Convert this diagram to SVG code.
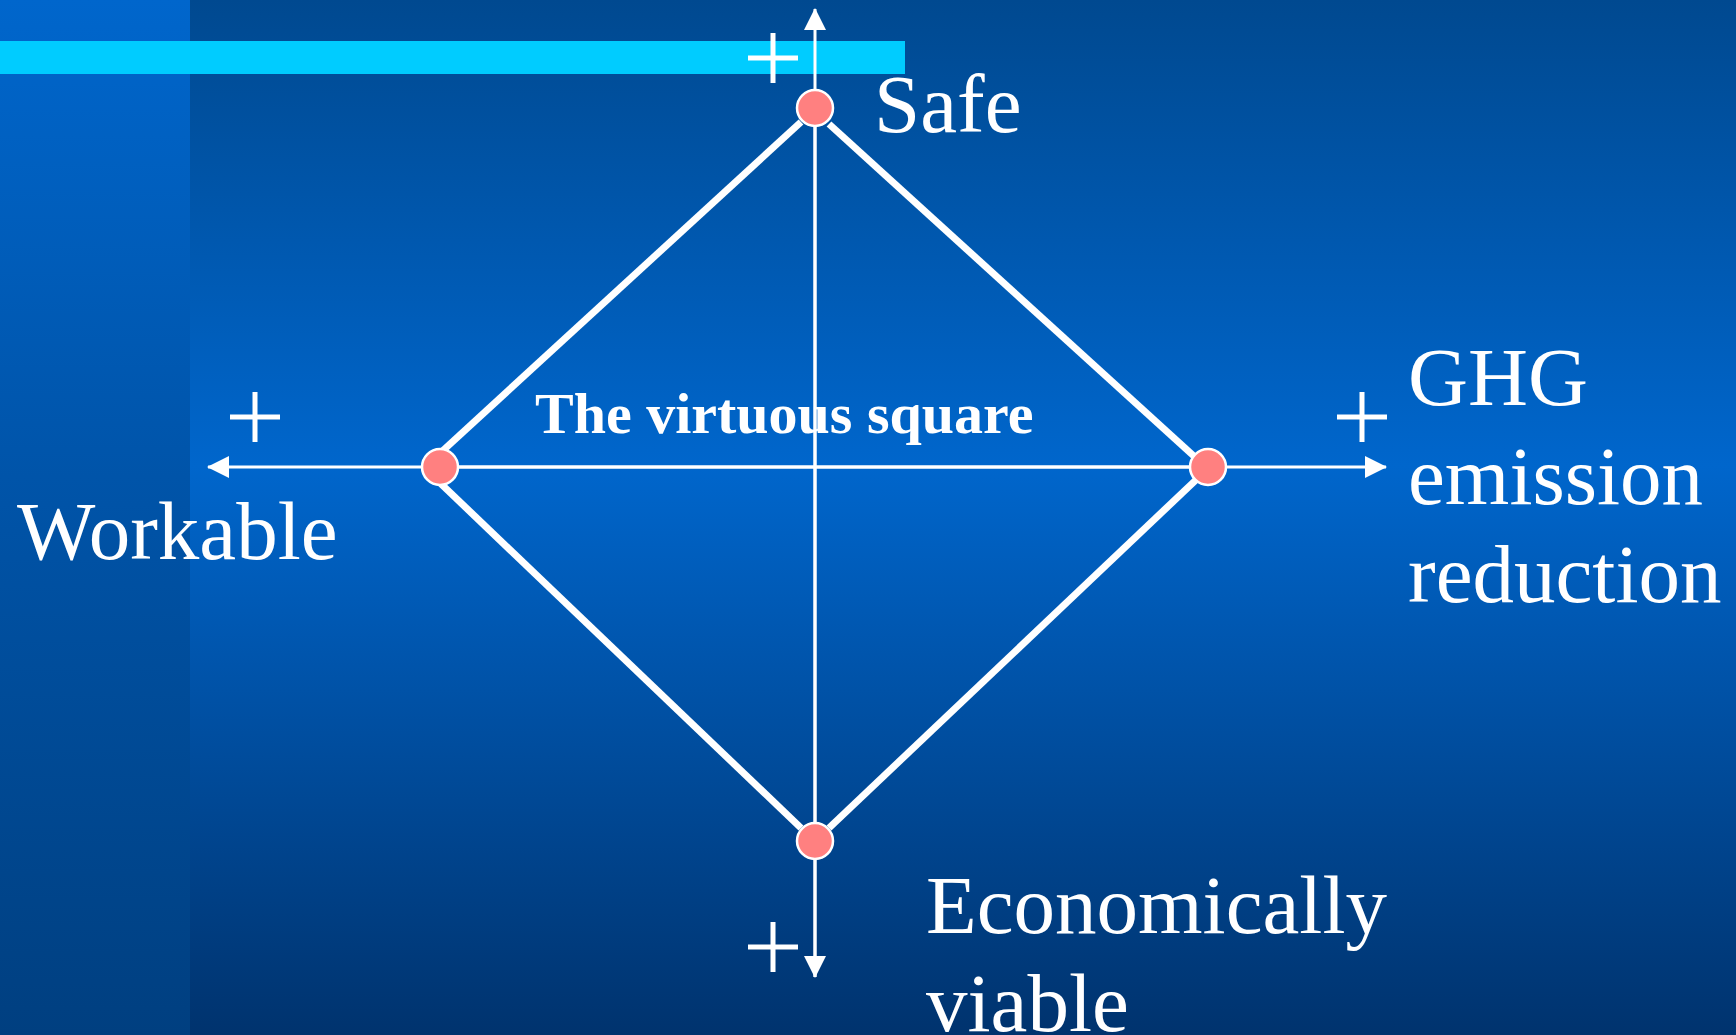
<svg xmlns="http://www.w3.org/2000/svg" width="1736" height="1035" viewBox="0 0 1736 1035">
<defs>
<linearGradient id="bg" x1="0" y1="0" x2="0" y2="1">
<stop offset="0" stop-color="#004990"/>
<stop offset="0.45" stop-color="#0066CC"/>
<stop offset="1" stop-color="#00336E"/>
</linearGradient>
<linearGradient id="strip" x1="0" y1="0" x2="0" y2="1">
<stop offset="0" stop-color="#0066CC"/>
<stop offset="1" stop-color="#003F80"/>
</linearGradient>
<marker id="arr" viewBox="0 0 22 22" refX="21" refY="11" markerWidth="22" markerHeight="22" markerUnits="userSpaceOnUse" orient="auto">
<path d="M0,0 L22,11 L0,22 Z" fill="#fff"/>
</marker>
</defs>
<style>
.axis{stroke:#fff;stroke-width:3;fill:none}
.edge{stroke:#fff;stroke-width:7;fill:none}
.plus{stroke:#fff;stroke-width:5;fill:none}
.node{fill:#FF8080;stroke:#fff;stroke-width:2.5}
.lbl{font-family:"Liberation Serif","Times New Roman",serif;font-size:83px;fill:#fff}
.title{font-family:"Liberation Serif","Times New Roman",serif;font-size:58px;font-weight:bold;fill:#fff}
</style>
<rect x="0" y="0" width="1736" height="1035" fill="url(#bg)"/>
<rect x="0" y="0" width="190" height="1035" fill="url(#strip)"/>
<rect x="0" y="41" width="905" height="33" fill="#00CCFF"/>
<g id="connectors">
<line class="axis" x1="815" y1="977" x2="815" y2="9" marker-end="url(#arr)"/>
<line class="axis" x1="815" y1="120" x2="815" y2="977" marker-end="url(#arr)"/>
<line class="axis" x1="1208" y1="467" x2="208" y2="467" marker-end="url(#arr)"/>
<line class="axis" x1="440" y1="467" x2="1386" y2="467" marker-end="url(#arr)"/>
<line class="edge" x1="801" y1="122" x2="437" y2="456"/>
<line class="edge" x1="829" y1="124" x2="1196" y2="458"/>
<line class="edge" x1="437" y1="480" x2="801" y2="828"/>
<line class="edge" x1="1198" y1="478" x2="829" y2="828"/>
</g>
<g id="plus-signs">
<path class="plus" d="M748,58 H798 M773,33 V83"/>
<path class="plus" d="M230,417 H280 M255,392 V442"/>
<path class="plus" d="M1337,417 H1387 M1362,392 V442"/>
<path class="plus" d="M748,947 H798 M773,922 V972"/>
</g>
<g id="node-safe">
<circle class="node" cx="815" cy="108" r="18"/>
<text class="lbl" x="874" y="132">Safe</text>
</g>
<g id="node-workable">
<circle class="node" cx="440" cy="467" r="18"/>
<text class="lbl" x="17" y="559">Workable</text>
</g>
<g id="node-ghg">
<circle class="node" cx="1208" cy="467" r="18"/>
<text class="lbl" x="1408" y="405">GHG</text>
<text class="lbl" x="1408" y="504">emission</text>
<text class="lbl" x="1408" y="602">reduction</text>
</g>
<g id="node-economic">
<circle class="node" cx="815" cy="841" r="18"/>
<text class="lbl" x="926" y="933">Economically</text>
<text class="lbl" x="926" y="1031">viable</text>
</g>
<g id="title">
<text class="title" x="535" y="433">The virtuous square</text>
</g>
</svg>
